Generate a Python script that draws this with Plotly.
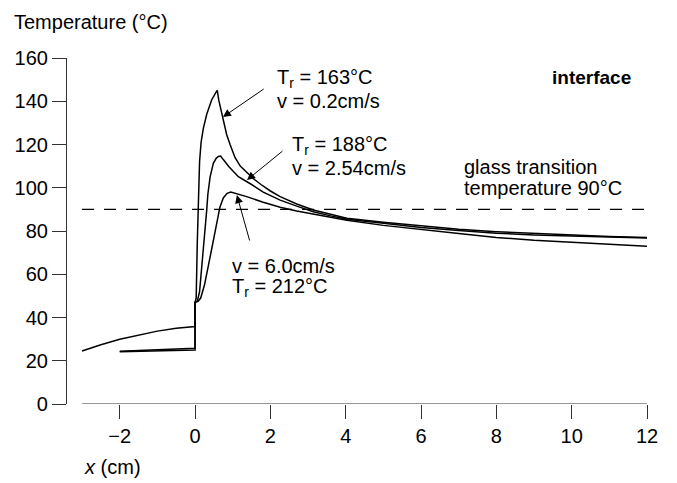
import plotly.graph_objects as go

# Interface temperature profiles for three roller temperatures / speeds
x_slow = [-3.0, -2.5, -2.0, -1.5, -1.0, -0.5, 0.0, 0.0, 0.03, 0.06, 0.09, 0.12, 0.16, 0.22,
          0.31, 0.44, 0.55, 0.59, 0.63, 0.68, 0.74, 0.84, 0.93, 1.06, 1.2, 1.37, 1.55, 1.75,
          2.0, 2.26, 2.7, 3.14, 3.6, 4.03, 5.0, 6.0, 7.0, 8.0, 9.0, 10.0, 11.0, 12.0]
y_slow = [24.5, 27.4, 29.9, 31.9, 33.7, 35.0, 35.8, 47.0, 49.0, 75.0, 95.0, 112.0, 121.0,
          127.5, 134.0, 140.6, 144.0, 145.0, 140.5, 136.5, 132.0, 124.5, 120.0, 114.0, 110.0,
          107.2, 104.2, 101.5, 98.5, 95.9, 92.5, 89.7, 87.6, 85.9, 84.0, 82.4, 80.8, 79.7,
          78.9, 78.2, 77.5, 77.0]

x_mid = [-2.0, -1.5, -1.0, -0.5, 0.0, 0.0, 0.06, 0.12, 0.18, 0.24, 0.31, 0.34, 0.4, 0.485,
         0.56, 0.62, 0.68, 0.76, 0.9, 1.15, 1.37, 1.5, 1.81, 2.0, 2.26, 2.7, 3.14, 3.6, 4.03,
         5.0, 6.0, 7.0, 8.0, 9.0, 10.0, 11.0, 12.0]
y_mid = [24.4, 24.8, 25.2, 25.5, 25.8, 47.0, 47.5, 52.0, 63.0, 76.0, 89.7, 97.0, 105.0, 111.3,
         113.6, 114.5, 114.7, 112.8, 109.7, 105.1, 103.0, 101.5, 98.0, 96.5, 94.3, 91.5, 88.9,
         87.0, 85.4, 83.6, 81.6, 80.2, 79.0, 78.2, 77.6, 77.2, 76.8]

x_fast = [-2.0, -1.5, -1.0, -0.5, 0.0, 0.0, 0.08, 0.15, 0.25, 0.4, 0.55, 0.66, 0.75, 0.85,
          0.95, 1.1, 1.37, 1.81, 2.26, 2.7, 3.14, 3.6, 4.03, 5.0, 6.0, 7.0, 8.0, 9.0, 10.0,
          11.0, 12.0]
y_fast = [24.2, 24.4, 24.6, 24.8, 25.0, 47.0, 47.5, 49.0, 55.0, 68.0, 82.0, 91.0, 95.3, 97.4,
          98.0, 97.3, 95.9, 93.3, 91.0, 89.3, 87.8, 86.3, 85.0, 82.6, 80.6, 78.9, 77.0, 75.7,
          74.8, 73.8, 73.0]

x_ticks = [-2, 0, 2, 4, 6, 8, 10, 12]
y_ticks = [0, 20, 40, 60, 80, 100, 120, 140, 160]
glass_transition = 90
x_span = [-3, 12]

FONT = "Liberation Sans, Arial, sans-serif"
FS = 20
W, H = 677, 483
ML, MR, MT, MB = 67, 30, 58, 79

fig = go.Figure()
for xs, ys in [(x_slow, y_slow), (x_mid, y_mid), (x_fast, y_fast)]:
    fig.add_trace(go.Scatter(x=xs, y=ys, mode="lines",
                             line=dict(color="black", width=1.5),
                             showlegend=False, hoverinfo="skip"))

# glass transition level
fig.add_shape(type="line", xref="x", yref="y", x0=x_span[0], x1=x_span[1],
              y0=glass_transition, y1=glass_transition,
              line=dict(color="black", width=1.2, dash="12px,10px"))
# horizontal axis line, detached from the vertical axis
fig.add_shape(type="line", xref="x", yref="y", x0=x_span[0], x1=x_span[1], y0=0, y1=0,
              line=dict(color="#333333", width=1.2))


def px_x(p):
    return (p - ML) / (W - ML - MR)


def px_y(p):
    return 1 - (p - MT) / (H - MT - MB)


ann = []
txt = dict(color="black", size=FS, family=FONT)

# curve labels
labels = [
    ("T<sub>r</sub> = 163°C", 2.12, 150.6),
    ("v = 0.2cm/s", 2.12, 140.2),
    ("T<sub>r</sub> = 188°C", 2.52, 119.6),
    ("v = 2.54cm/s", 2.52, 109.2),
    ("v = 6.0cm/s", 0.93, 63.8),
    ("T<sub>r</sub> = 212°C", 0.93, 53.8),
    ("glass transition", 7.09, 109.6),
    ("temperature 90°C", 7.09, 100.0),
]
for t, x, y in labels:
    ann.append(dict(text=t, x=x, y=y, xref="x", yref="y", xanchor="left",
                    yanchor="middle", showarrow=False, font=txt))

ann.append(dict(text="<b>interface</b>", x=11.63, y=151.2, xref="x", yref="y",
                xanchor="right", yanchor="middle", showarrow=False,
                font=dict(color="black", size=19, family=FONT)))

# arrows pointing at each curve
arrows = [((1.86, 146.1), (0.74, 132.7)),
          ((2.36, 117.5), (1.38, 103.6)),
          ((1.46, 74.9), (1.11, 96.6))]
for (tx, ty), (hx, hy) in arrows:
    ann.append(dict(x=hx, y=hy, ax=tx, ay=ty, xref="x", yref="y", axref="x", ayref="y",
                    text="", showarrow=True, arrowhead=2, arrowsize=1.6, arrowwidth=1,
                    arrowcolor="black", standoff=0))

# axis titles
ann.append(dict(text="Temperature (°C)", x=px_x(12), y=px_y(22), xref="paper", yref="paper",
                xanchor="left", yanchor="middle", showarrow=False, font=txt))
ann.append(dict(text="<i>x</i> (cm)", x=px_x(82), y=px_y(467), xref="paper", yref="paper",
                xanchor="left", yanchor="middle", showarrow=False, font=txt))

fig.update_layout(
    width=W, height=H,
    margin=dict(l=ML, r=MR, t=MT, b=MB, pad=0),
    paper_bgcolor="white", plot_bgcolor="white",
    annotations=ann,
    font=dict(family=FONT, size=FS, color="black"),
    xaxis=dict(range=[-3.4, 12], tickvals=x_ticks, ticks="outside", ticklen=14,
               tickwidth=1.2, tickcolor="#333333", showline=False, showgrid=False,
               zeroline=False, tickfont=dict(size=FS, family=FONT, color="black"),
               fixedrange=True),
    yaxis=dict(range=[0, 160], tickvals=y_ticks, ticks="outside", ticklen=14,
               tickwidth=1.2, tickcolor="#333333", showline=True, linecolor="#333333",
               linewidth=1.2, showgrid=False, zeroline=False,
               tickfont=dict(size=FS, family=FONT, color="black"), fixedrange=True),
)

fig.write_html("out.html")
